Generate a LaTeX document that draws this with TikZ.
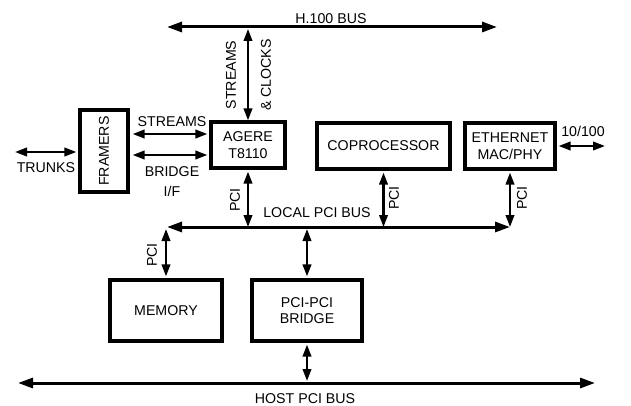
\documentclass[tikz,border=0pt]{standalone}
\usepackage{fontspec}
\setmainfont{Liberation Sans}
\usetikzlibrary{arrows.meta}
\begin{document}
\begin{tikzpicture}[x=1pt,y=-1pt,
  every node/.style={font=\fontsize{14.2}{16.5}\selectfont, inner sep=0pt},
  blk/.style={draw, line width=3.2pt, align=center},
  conn/.style={line width=2.2pt, {Triangle[length=12pt,width=8.5pt]}-{Triangle[length=12pt,width=8.5pt]}},
  bus/.style={line width=3pt, {Triangle[length=15pt,width=10pt]}-{Triangle[length=15pt,width=10pt]}},
  vlbl/.style={rotate=90}]
\useasboundingbox (0,0) rectangle (631,406);
% boxes
\node[blk, minimum width=48pt, minimum height=82pt] (framers) at (104,151) {};
\node[vlbl] (framerstxt) at (framers.center) {FRAMERS};
\node[blk, minimum width=74pt, minimum height=46pt] (agere) at (248,145) {AGERE\\T8110};
\node[blk, minimum width=133pt, minimum height=46pt] (cop) at (383.5,146) {COPROCESSOR};
\node[blk, minimum width=90pt, minimum height=46pt] (eth) at (510,146) {ETHERNET\\MAC/PHY};
\node[blk, minimum width=112pt, minimum height=61pt] (mem) at (166,310.5) {MEMORY};
\node[blk, minimum width=110pt, minimum height=61pt] (bridge) at (307,310.5) {PCI-PCI\\BRIDGE};
% bus coordinates
\coordinate (h100L) at (167,27);
\coordinate (h100R) at (497,27);
\coordinate (h100tap) at (248,27);
\coordinate (locL) at (167,227);
\coordinate (locR) at (510,227);
\coordinate (hostL) at (18,383);
\coordinate (hostR) at (595,383);
\coordinate (trunksL) at (15,152);
\coordinate (netR) at (605,146);
% buses
\draw[bus] (h100L) -- (h100R);
\draw[bus] (locL) -- (locR);
\draw[bus] (hostL) -- (hostR);
% connectors
\draw[conn, shorten <=2pt] (h100tap) -- (agere.north);
\draw[conn, shorten >=2pt] (trunksL) -- (framers.west |- trunksL);
\draw[conn, shorten <=3pt, shorten >=2pt] (framers.east |- {(0,134)}) -- (agere.west |- {(0,134)});
\draw[conn, shorten <=3pt, shorten >=2pt] (framers.east |- {(0,155)}) -- (agere.west |- {(0,155)});
\draw[conn, shorten <=2pt] (agere.south) -- (agere.south |- locL);
\draw[conn, shorten <=2pt] (cop.south) -- (cop.south |- locL);
\draw[conn, shorten <=2pt] (eth.south) -- (eth.south |- locL);
\draw[conn, shorten <=2pt] (eth.east) -- (netR);
\draw[conn, shorten >=2pt, shorten <=2pt] (mem.north |- locL) -- (mem.north);
\draw[conn, shorten >=2pt, shorten <=2pt] (bridge.north |- locL) -- (bridge.north);
\draw[conn, shorten <=2pt, shorten >=2pt] (bridge.south) -- (bridge.south |- hostL);
% labels
\node (lh100) at (331,19) {H.100 BUS};
\node[vlbl] (lstreamsv) at (231,75) {STREAMS};
\node[vlbl] (lclocks) at (266,75) {\& CLOCKS};
\node (lstreams) at (172,122) {STREAMS};
\node (lbridge) at (172,172) {BRIDGE};
\node (lif) at (172,191) {I/F};
\node (ltrunks) at (46,168) {TRUNKS};
\node[vlbl] (lpci1) at (235,200) {PCI};
\node (llocal) at (317,213) {LOCAL PCI BUS};
\node[vlbl] (lpci2) at (394,198) {PCI};
\node[vlbl] (lpci3) at (522,198) {PCI};
\node (lnet) at (583,131) {10/100};
\node[vlbl] (lpci4) at (152,255) {PCI};
\node (lhost) at (305,399) {HOST PCI BUS};
\end{tikzpicture}
\end{document}
